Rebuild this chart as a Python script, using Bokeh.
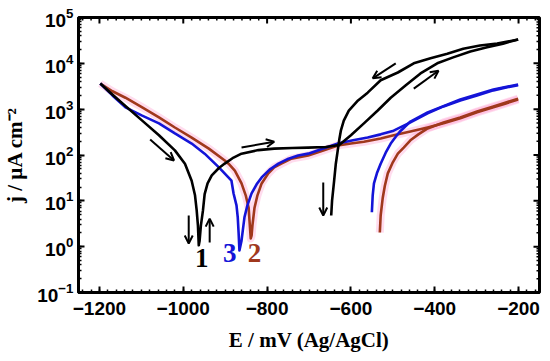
from bokeh.plotting import figure
from bokeh.models import Range1d, SingleIntervalTicker, Arrow, OpenHead, ColumnDataSource
from bokeh.core.properties import value
from bokeh.embed import file_html
from bokeh.resources import INLINE
import math

# ---- data (E in mV vs Ag/AgCl, j in uA cm^-2) ----
# Curve 1 (black) forward sweep
e1_fwd = [-1198, -1174, -1153, -1098, -1058, -1020, -996, -980, -972, -968, -965, -963,
          -961, -958, -953, -949, -942, -932, -915, -901, -880, -861, -821, -783, -740,
          -702, -660, -628, -600, -569, -536, -505, -469, -434, -394, -356, -315, -275,
          -237, -201]
j1_fwd = [3631, 2291, 1549, 562, 269, 126, 64.6, 27.5, 13.2, 6.17, 2.88, 1.07,
          1.35, 2.88, 6.17, 14, 24, 36, 52, 65, 88, 107, 128, 138, 142,
          145, 150, 165, 269, 490, 933, 1778, 3311, 6026, 10000, 13490, 18200, 22390,
          26900, 33110]
# Curve 1 (black) reverse sweep
e1_rev = [-201, -251, -292, -332, -370, -410, -450, -488, -529, -560, -583, -605, -617,
          -624, -628, -636, -640, -645, -647]
j1_rev = [33110, 26900, 24550, 20890, 16220, 12880, 10000, 6310, 4266, 2291, 1549, 933, 562,
          339, 209, 64.6, 27.5, 10, 4.79]

# Curve 3 (blue) forward sweep
e3_fwd = [-1198, -1169, -1138, -1098, -1058, -1020, -980, -949, -915, -885, -880, -873,
          -870, -868, -866, -861, -858, -854, -847, -837, -825, -813, -794, -773, -749,
          -726, -702, -666, -631, -595, -560, -529, -498, -458, -417, -379, -339, -299,
          -260, -232, -201]
j3_fwd = [3631, 1995, 1096, 724, 490, 295, 178, 107, 53.7, 27.5, 14.5, 7.94,
          4.37, 2.04, 0.83, 1.35, 2.24, 4.37, 7.94, 14.5, 22.9, 32.4, 47.9, 64.6, 83.2,
          97.7, 107, 138, 178, 209, 240, 282, 339, 513, 813, 1148, 1549, 1995,
          2570, 2951, 3311]
# Curve 3 (blue) reverse sweep
e3_rev = [-201, -260, -339, -417, -458, -481, -493, -505, -517, -529, -538, -545, -548, -550]
j3_rev = [3467, 2692, 1622, 851, 537, 339, 251, 178, 112, 64.6, 39.8, 24, 13.2, 5.62]

# Curve 2 (brown) forward sweep
e2_fwd = [-1198, -1169, -1138, -1098, -1058, -1020, -980, -939, -901, -892, -877, -861,
          -851, -844, -842, -839, -837, -835, -830, -823, -813, -797, -783, -766, -742,
          -702, -666, -631, -600, -569, -529, -498, -458, -417, -379, -339, -299, -260,
          -232, -201]
j2_fwd = [3631, 2455, 1778, 1096, 661, 398, 240, 138, 75.9, 64.6, 45.7, 24,
          13.2, 7.08, 3.72, 1.51, 1.74, 2.88, 7.08, 13.2, 24, 39.8, 53.7, 64.6, 83.2,
          97.7, 126, 162, 178, 195, 229, 269, 324, 398, 490, 631, 851, 1096,
          1318, 1622]
# Curve 2 (brown) reverse sweep
e2_rev = [-201, -232, -260, -299, -339, -379, -417, -439, -458, -474, -488, -500, -512,
          -519, -524, -529, -531]
j2_rev = [1698, 1380, 1148, 891, 661, 513, 380, 282, 209, 145, 107, 69.2, 39.8,
          21.4, 11.7, 4.79, 2.04]

# sweep-direction arrows (start E, start j, end E, end j)
arr_x0 = [-1079, -861, -493, -450, -666, -987, -937]
arr_y0 = [218, 145, 10000, 2800, 25, 4.8, 1.23]
arr_x1 = [-1022, -783, -548, -391, -666, -987, -937]
arr_y1 = [76, 195, 4700, 6900, 4.8, 1.17, 4.1]

# curve labels
lab_text = ["1", "3", "2"]
lab_x = [-956, -889, -830]
lab_y = [0.57, 0.71, 0.71]
lab_col = ["black", "#1414d8", "#a0381c"]

# axis ticks
x_major = [-1200, -1000, -800, -600, -400, -200]
x_minor_step = 20
y_major_exp = [-1, 0, 1, 2, 3, 4, 5]

X_MIN, X_MAX = -1250, -150
Y_MIN, Y_MAX = 0.1, 1e5

BLACK = "black"
BLUE = "#1414d8"
BROWN = "#a0381c"
PINK = "#ff8cc8"

p = figure(width=545, height=360, x_range=Range1d(X_MIN, X_MAX), y_range=Range1d(Y_MIN, Y_MAX),
           y_axis_type="log", output_backend="svg", toolbar_location=None,
           min_border_left=76, min_border_right=6, min_border_top=17, min_border_bottom=68,
           title="E / mV (Ag/AgCl)", title_location="below")
p.grid.visible = False
p.outline_line_color = "black"
p.outline_line_width = 3
p.background_fill_color = "white"
p.border_fill_color = "white"

p.title.align = "center"
p.title.text_font = "Liberation Serif"
p.title.text_font_style = "bold"
p.title.text_font_size = "21px"
p.title.text_color = "black"
p.title.standoff = 17

xt = SingleIntervalTicker(interval=200, num_minor_ticks=10)
p.xaxis.ticker = xt

for ax in [p.xaxis[0], p.yaxis[0]]:
    ax.axis_line_width = 3
    ax.major_tick_in = 6
    ax.major_tick_out = 0
    ax.minor_tick_in = 3
    ax.minor_tick_out = 0
    ax.major_tick_line_width = 2
    ax.minor_tick_line_width = 1.5
    ax.major_label_text_font = "Liberation Sans"
    ax.major_label_text_font_style = "bold"
    ax.major_label_text_color = "black"
    ax.axis_label_text_font = "Liberation Serif"
    ax.axis_label_text_font_style = "bold"
    ax.axis_label_text_font_size = "21px"
    ax.axis_label_text_color = "black"

p.xaxis.major_label_text_font_size = "19px"
p.yaxis.major_label_text_font_size = "19px"
p.yaxis.axis_label = "j / \u00b5A cm\u207b\u00b2"
p.xaxis.major_label_standoff = 9
p.yaxis.major_label_standoff = 5
p.yaxis.axis_label_standoff = 7

# mirrored ticks on top and right edges (clipped to the frame, so only the inner half shows)
x_minor = [v for v in range(X_MIN + 10, X_MAX, x_minor_step) if v not in x_major]
y_major = [10.0 ** k for k in y_major_exp]
y_minor = [m * 10.0 ** k for k in y_major_exp[:-1] for m in range(2, 10)]
p.scatter(x_major, [Y_MAX] * len(x_major), marker="dash", angle=math.pi / 2, size=12,
          line_color="black", line_width=2)
p.scatter(x_minor, [Y_MAX] * len(x_minor), marker="dash", angle=math.pi / 2, size=6,
          line_color="black", line_width=1.5)
p.scatter([X_MAX] * len(y_major), y_major, marker="dash", size=12,
          line_color="black", line_width=2)
p.scatter([X_MAX] * len(y_minor), y_minor, marker="dash", size=6,
          line_color="black", line_width=1.5)

# pink glow under brown curve
p.line(e2_fwd, j2_fwd, line_color=PINK, line_width=8, line_alpha=0.3, line_join="round")
p.line(e2_rev, j2_rev, line_color=PINK, line_width=8, line_alpha=0.3, line_join="round")

for ex, jy, col in [(e2_fwd, j2_fwd, BROWN), (e2_rev, j2_rev, BROWN),
                    (e3_fwd, j3_fwd, BLUE), (e3_rev, j3_rev, BLUE),
                    (e1_fwd, j1_fwd, BLACK), (e1_rev, j1_rev, BLACK)]:
    p.line(ex, jy, line_color=col, line_width=2.6, line_join="round")

for xa, ya, xb, yb in zip(arr_x0, arr_y0, arr_x1, arr_y1):
    p.add_layout(Arrow(end=OpenHead(size=8, line_width=2, line_color="black"),
                       x_start=xa, y_start=ya, x_end=xb, y_end=yb,
                       line_width=2, line_color="black"))

src = ColumnDataSource(dict(x=lab_x, y=lab_y, t=lab_text, c=lab_col))
p.text(x="x", y="y", text="t", text_color="c", source=src,
       text_font=value("Liberation Serif"), text_font_style="bold",
       text_font_size="27px", text_align="center", text_baseline="middle")

open("out.html", "w").write(file_html(p, INLINE))
